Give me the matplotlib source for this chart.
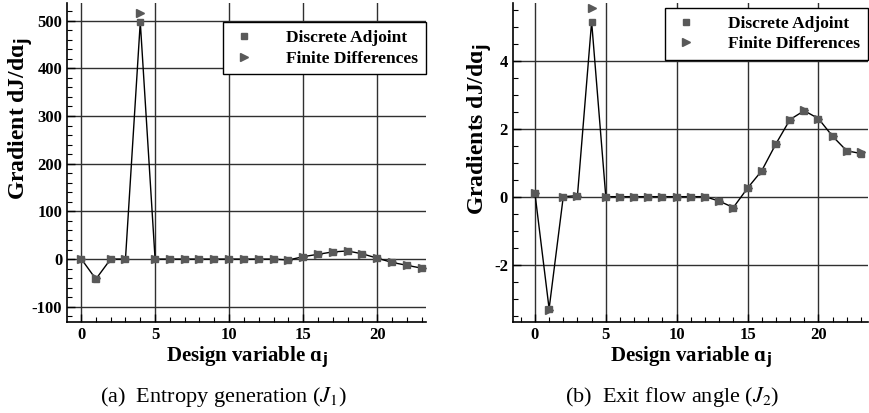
import numpy as np
import matplotlib.pyplot as plt
from matplotlib.ticker import MultipleLocator

# design variable index
design_var = np.arange(24)

# entropy generation gradients (J1)
adj_j1 = [1, -42, 0, 0, 497, 0, 0, 0, 0, 0, 0, 0, 0, 0, -2, 5, 10, 15, 17, 11, 2, -7, -13, -19]
fd_j1 = [1, -40, 0, 0, 516, 0, 0, 0, 0, 0, 0, 0, 0, 0, -2, 5, 10, 15, 17, 11, 2, -7, -13, -19]

# exit flow angle gradients (J2)
adj_j2 = [0.10, -3.30, 0.0, 0.03, 5.15, 0.0, 0.0, 0.0, 0.0, 0.0, 0.0, 0.0, 0.0, -0.13,
          -0.32, 0.25, 0.76, 1.55, 2.27, 2.53, 2.30, 1.78, 1.35, 1.27]
fd_j2 = [0.10, -3.35, 0.0, 0.03, 5.54, 0.0, 0.0, 0.0, 0.0, 0.0, 0.0, 0.0, 0.0, -0.13,
         -0.32, 0.25, 0.76, 1.55, 2.27, 2.55, 2.30, 1.78, 1.35, 1.30]

plt.rcParams['font.family'] = ['Liberation Serif', 'DejaVu Serif']
plt.rcParams['mathtext.fontset'] = 'dejavusans'
plt.rcParams['axes.unicode_minus'] = False

fig = plt.figure(figsize=(8.69, 4.13), dpi=100)
ax1 = fig.add_axes([0.0771, 0.2203, 0.4131, 0.7724])
ax2 = fig.add_axes([0.5903, 0.2203, 0.4085, 0.7724])

mk_color = '#595959'


def style_axis(ax, ymajor, yminor):
    ax.xaxis.set_major_locator(MultipleLocator(5))
    ax.xaxis.set_minor_locator(MultipleLocator(1))
    ax.yaxis.set_major_locator(MultipleLocator(ymajor))
    ax.yaxis.set_minor_locator(MultipleLocator(yminor))
    ax.tick_params(which='major', direction='in', length=6, width=1, labelsize=12)
    ax.tick_params(which='minor', direction='in', length=3.5, width=0.8)
    for lab in ax.get_xticklabels() + ax.get_yticklabels():
        lab.set_fontweight('bold')
    ax.spines['top'].set_visible(False)
    ax.spines['right'].set_visible(False)
    ax.spines['left'].set_linewidth(1.2)
    ax.spines['bottom'].set_linewidth(1.2)
    ax.grid(True, which='major', color='#303030', linewidth=1.0)
    ax.set_axisbelow(True)
    ax.set_xlabel('Design variable ɑ$_\\mathbf{j}$', fontsize=15, fontweight='bold', labelpad=1)


def draw(ax, adj, fd):
    ax.plot(design_var, adj, color='black', linewidth=1.0, zorder=3)
    ax.plot(design_var, adj, linestyle='none', marker='s', markersize=5,
            color=mk_color, label='Discrete Adjoint', zorder=5)
    ax.plot(design_var, fd, linestyle='none', marker='>', markersize=5.5,
            color=mk_color, label='Finite Differences', zorder=4)


def add_legend(ax, top):
    leg = ax.legend(loc='upper right', bbox_to_anchor=(1.0, top), borderaxespad=0,
                    fancybox=False, edgecolor='black', framealpha=1,
                    prop={'size': 12.5, 'weight': 'bold'},
                    handlelength=1.5, handletextpad=1.7, labelspacing=0.25, borderpad=0.45)
    leg.get_frame().set_linewidth(1.0)


draw(ax1, adj_j1, fd_j1)
style_axis(ax1, 100, 20)
ax1.set_xlim(-0.95, 23.3)
ax1.set_ylim(-132, 537)
ax1.set_ylabel('Gradient dJ/dɑ$_\\mathbf{j}$', fontsize=17, fontweight='bold')
ax1.yaxis.set_label_coords(-0.088, 0.637)
add_legend(ax1, 0.94)

draw(ax2, adj_j2, fd_j2)
style_axis(ax2, 2, 0.5)
ax2.set_xlim(-1.55, 23.5)
ax2.set_ylim(-3.69, 5.70)
ax2.set_ylabel('Gradients dJ/dɑ$_\\mathbf{j}$', fontsize=17, fontweight='bold')
ax2.yaxis.set_label_coords(-0.053, 0.605)
add_legend(ax2, 0.985)

fig.text(224 / 869, 1 - 397 / 413, r'(a)  Entropy generation ($J_1$)', ha='center', va='center',
         fontsize=16, math_fontfamily='stix')
fig.text(672 / 869, 1 - 397 / 413, r'(b)  Exit flow angle ($J_2$)', ha='center', va='center',
         fontsize=16, math_fontfamily='stix')

fig.savefig('out.png', dpi=100)
